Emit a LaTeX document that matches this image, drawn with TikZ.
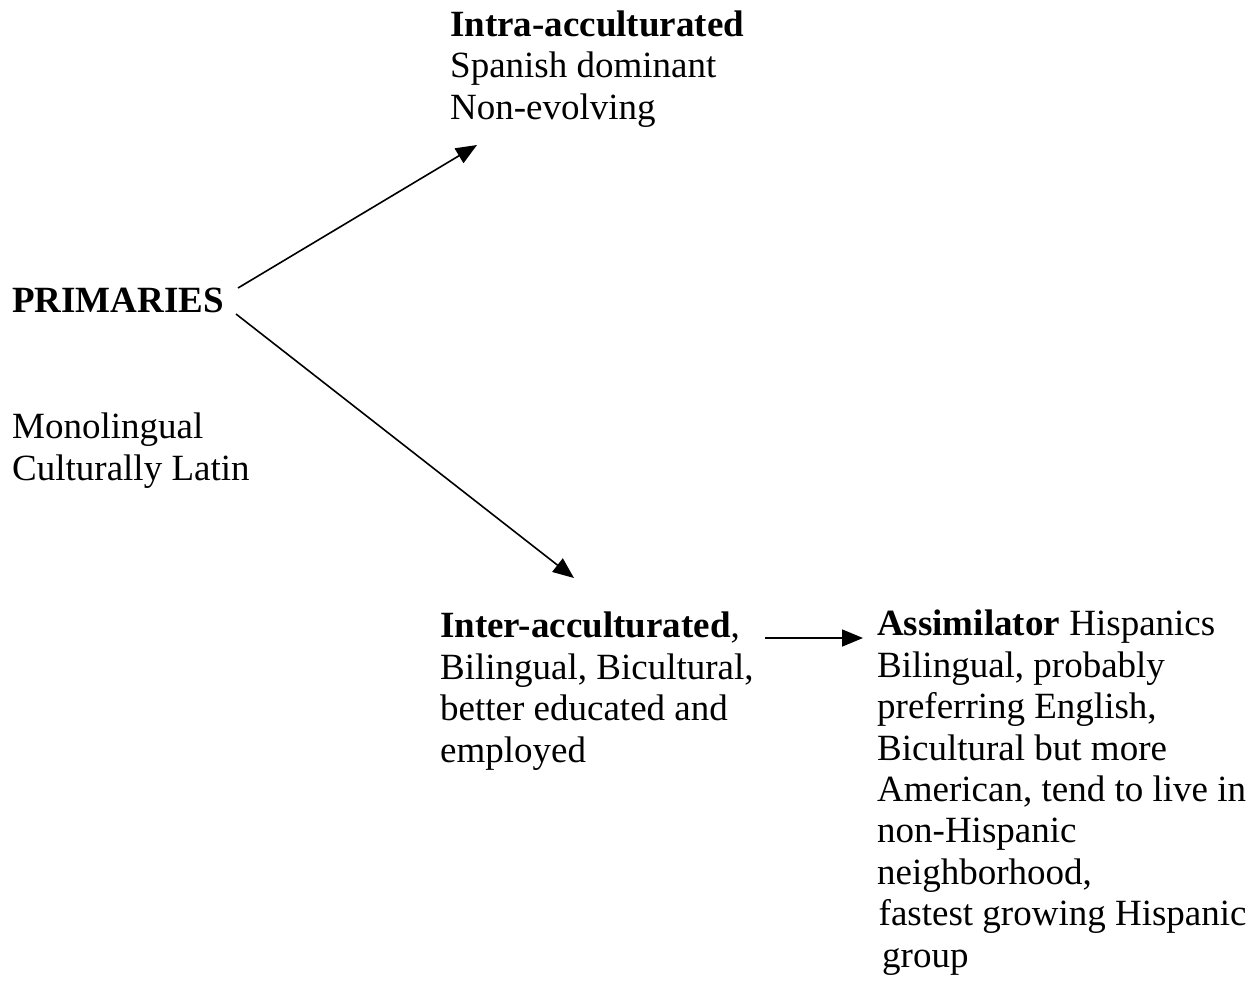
\documentclass[tikz,border=0pt]{standalone}
\usepackage{fontspec}
\setmainfont{Liberation Serif}
\usetikzlibrary{arrows.meta}
\tikzset{
  txt/.style={anchor=base west, inner sep=0pt, align=left, font=\fontsize{37}{41.4}\selectfont},
  conn/.style={line width=1.6pt, -{Triangle[length=21pt,width=17pt]}}
}
\begin{document}
\begin{tikzpicture}[x=1pt,y=-1pt]
\useasboundingbox (0,0) rectangle (1260,989);
% base anchor = baseline of the last line
\node[txt] (intra) at (450,119) {\textbf{Intra-acculturated}\\Spanish dominant\\Non-evolving};
\node[txt] (prim) at (12,312) {\textbf{PRIMARIES}};
\node[txt] (mono) at (12,480) {Monolingual\\Culturally Latin};
\node[txt] (inter) at (440,762) {\textbf{Inter-acculturated},\\Bilingual, Bicultural,\\better educated and\\employed};
\node[txt] (assim) at (877,967) {\textbf{Assimilator} Hispanics\\Bilingual, probably\\preferring English,\\Bicultural but more\\American, tend to live in\\non-Hispanic\\neighborhood,\\\hspace{1.5pt}fastest growing Hispanic\\\hspace{5pt}group};
\coordinate (s1) at (238,288);
\coordinate (e1) at (477,145);
\coordinate (s2) at (236,314);
\coordinate (e2) at (574,578);
\coordinate (s3) at (765,638);
\coordinate (e3) at (863,638);
\draw[conn] (s1) -- (e1);
\draw[conn] (s2) -- (e2);
\draw[conn] (s3) -- (e3);
\end{tikzpicture}
\end{document}
